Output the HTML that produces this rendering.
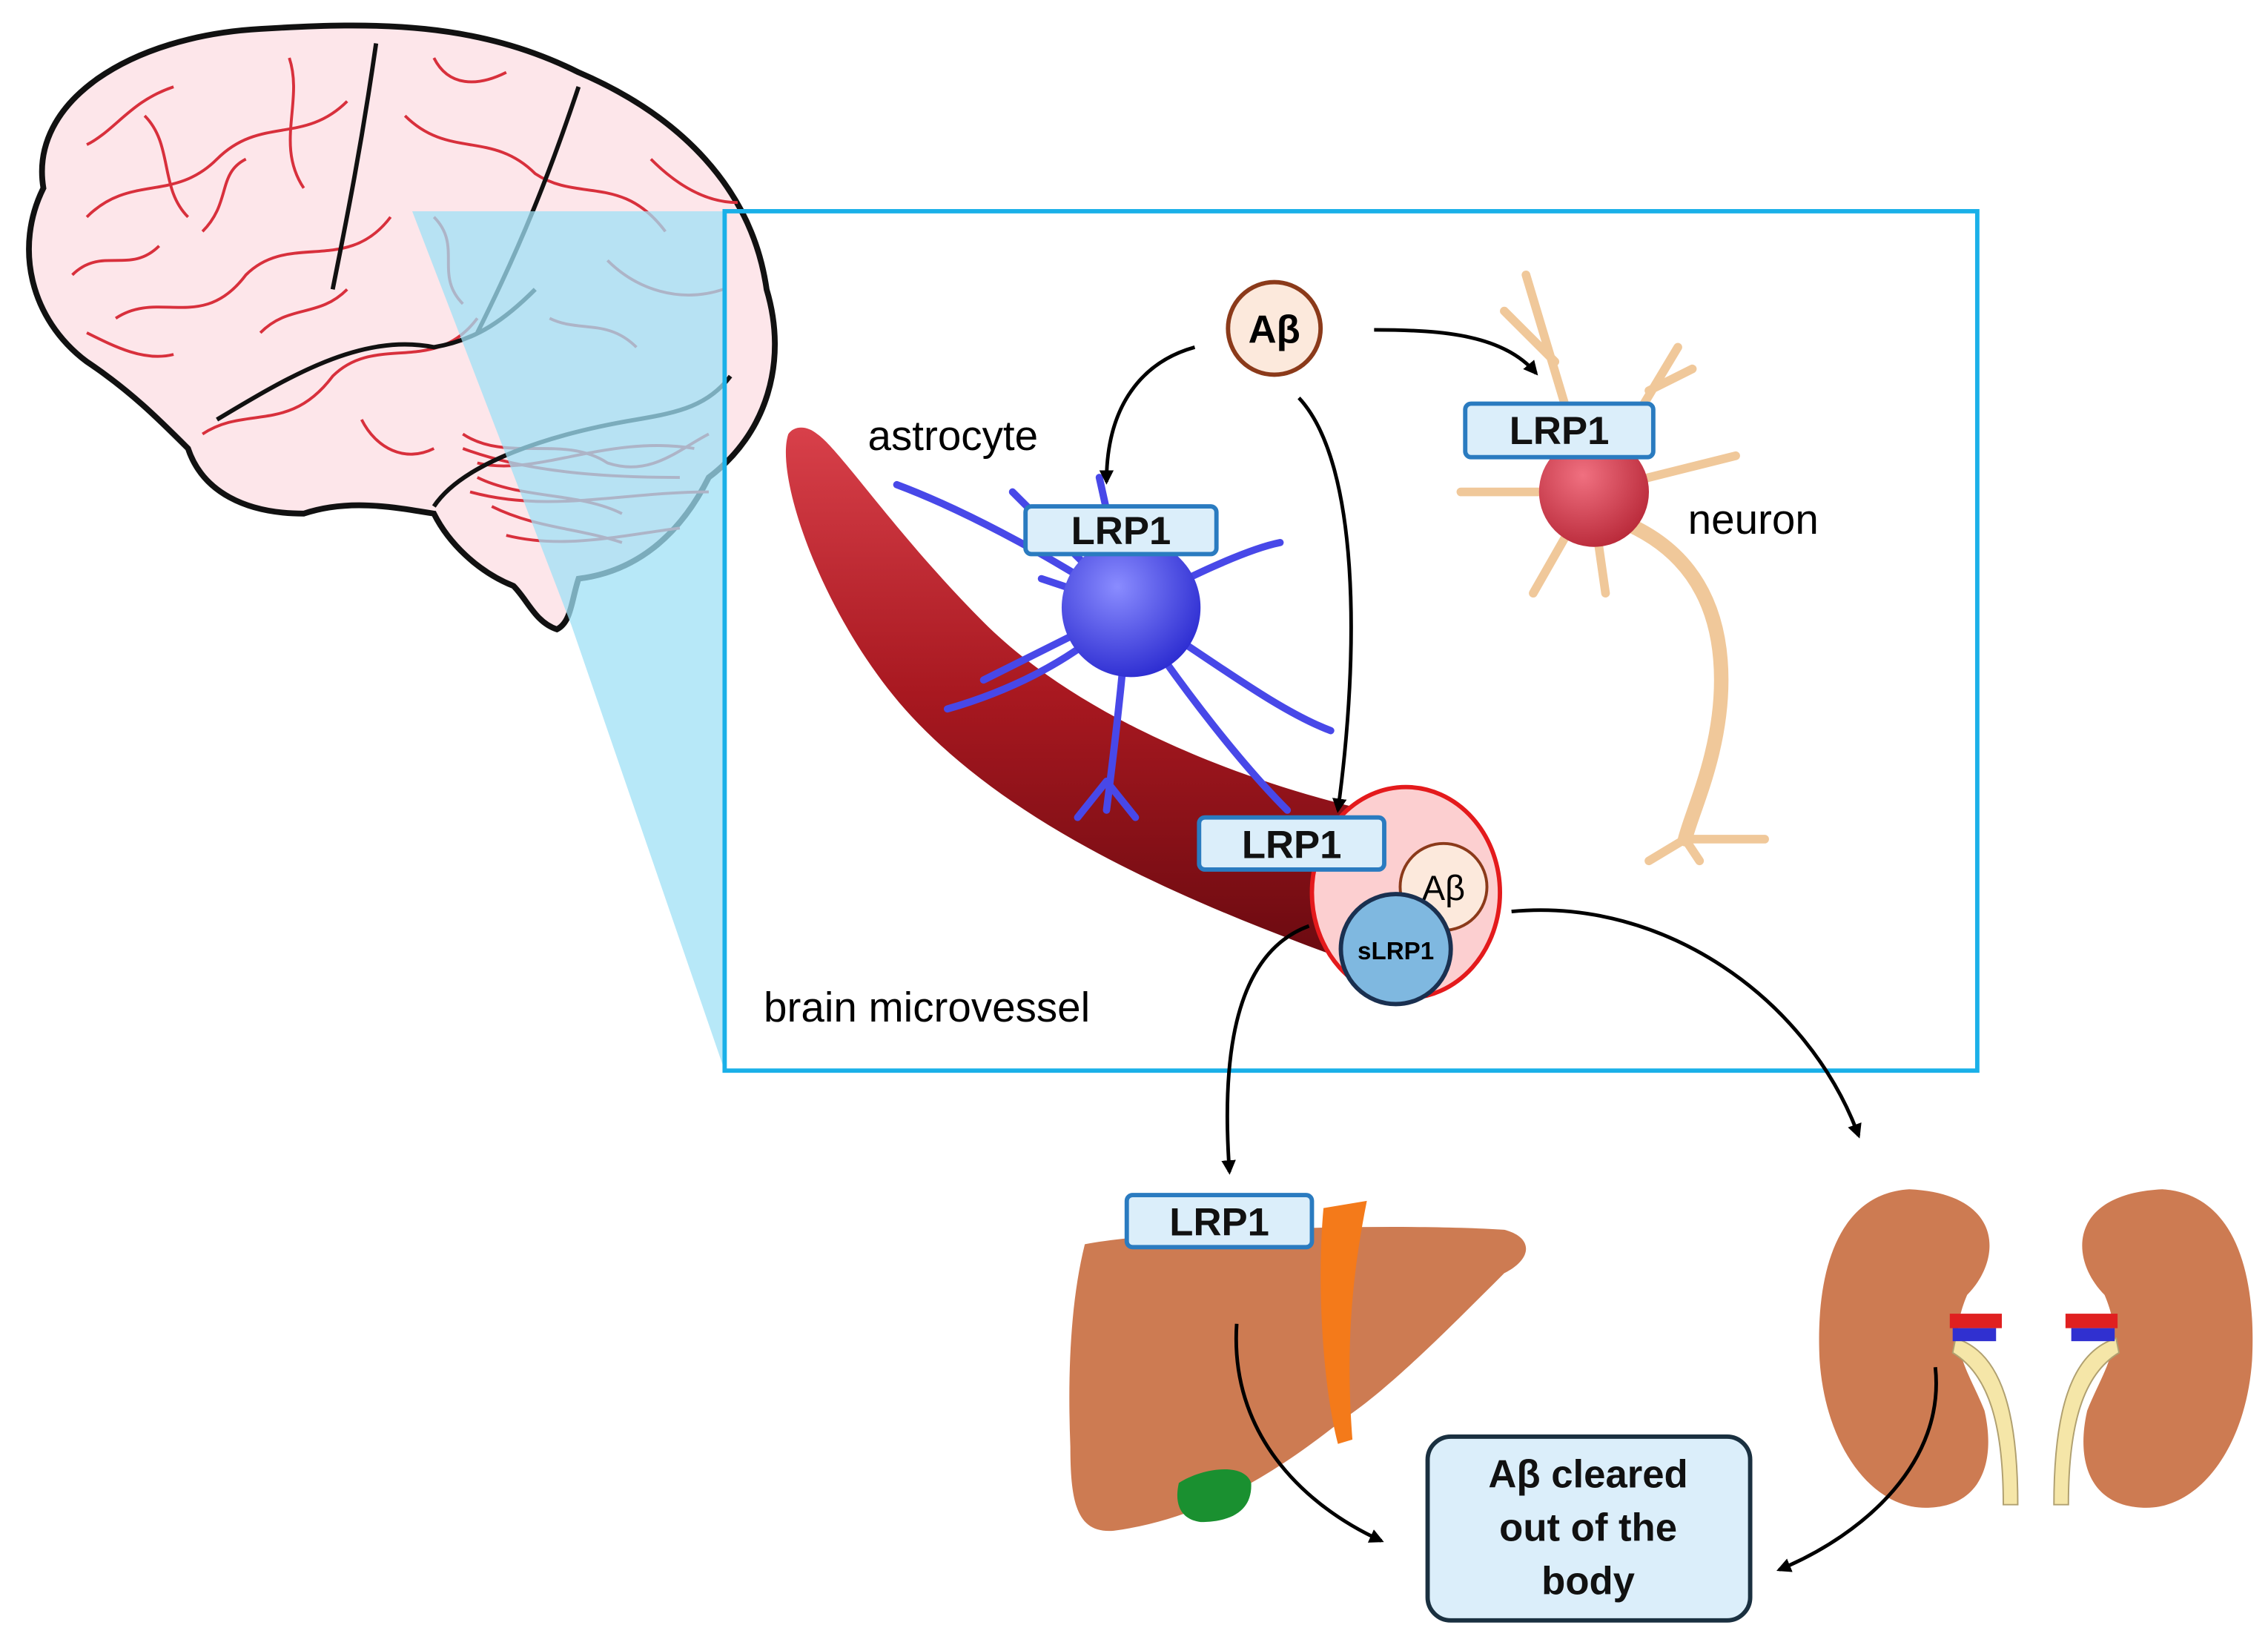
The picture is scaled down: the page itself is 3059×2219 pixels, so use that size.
<!DOCTYPE html>
<html><head><meta charset="utf-8"><style>
html,body{margin:0;padding:0;background:#fff}
svg{display:block}
text{font-family:"Liberation Sans",sans-serif}
</style></head><body>
<svg width="3059" height="2219" viewBox="0 0 1568 1137" preserveAspectRatio="none" xmlns="http://www.w3.org/2000/svg">
<defs>
<marker id="ah" markerWidth="10" markerHeight="10" refX="8" refY="5" orient="auto" markerUnits="userSpaceOnUse"><path d="M0,0 L10,5 L0,10 z" fill="#000"/></marker>
<radialGradient id="astro" cx="0.4" cy="0.35" r="0.7"><stop offset="0" stop-color="#8a8cff"/><stop offset="1" stop-color="#2a2ad0"/></radialGradient>
<radialGradient id="neu" cx="0.4" cy="0.35" r="0.7"><stop offset="0" stop-color="#f07080"/><stop offset="1" stop-color="#b82838"/></radialGradient>
<linearGradient id="ves" x1="0" y1="0" x2="0" y2="1"><stop offset="0" stop-color="#d8404a"/><stop offset="0.5" stop-color="#a81820"/><stop offset="1" stop-color="#6a0a10"/></linearGradient>
</defs>

<!-- brain -->
<path d="M30,130 C20,70 90,25 180,20 C260,15 330,15 400,50 C470,80 520,130 530,200 C545,250 530,300 490,330 C470,370 440,395 400,400 C395,415 395,430 385,435 C370,430 365,415 355,405 C330,395 310,375 300,355 C270,350 240,345 210,355 C170,355 140,340 130,310 C110,290 90,270 60,250 C20,220 10,170 30,130 Z" fill="#fde6ea" stroke="#111" stroke-width="4"/>
<g fill="none" stroke="#d8303c" stroke-width="2">
<path d="M60,150 C90,120 120,140 150,110 C180,80 210,100 240,70"/>
<path d="M80,220 C110,200 140,230 170,190 C200,160 240,190 270,150"/>
<path d="M140,300 C170,280 200,300 230,260 C260,230 300,260 330,220"/>
<path d="M280,80 C310,110 340,90 370,120 C400,140 430,120 460,160"/>
<path d="M320,300 C350,320 390,300 420,320 C450,330 470,310 490,300"/>
<path d="M330,330 C360,345 400,340 430,355 M340,350 C370,365 400,365 430,375 M320,310 C360,325 410,330 470,330"/>
<path d="M100,80 C120,100 110,130 130,150 M200,40 C210,70 190,100 210,130 M420,180 C440,200 470,210 500,200"/>
<path d="M50,190 C70,170 90,190 110,170 M60,100 C80,90 90,70 120,60 M300,40 C310,60 330,60 350,50 M140,160 C160,140 150,120 170,110 M180,230 C200,210 220,220 240,200 M300,150 C320,170 300,190 320,210 M380,220 C400,230 420,220 440,240 M450,110 C470,130 490,140 510,140 M250,290 C260,310 280,320 300,310 M60,230 C80,240 100,250 120,245"/>
<path d="M330,320 C370,330 420,300 480,310 M325,340 C380,355 430,340 490,340 M350,370 C390,380 430,370 470,365"/>
</g>
<g fill="none" stroke="#111" stroke-width="3">
<path d="M150,290 C200,260 250,230 300,240 C330,235 350,220 370,200"/>
<path d="M260,30 C250,100 240,150 230,200"/>
<path d="M400,60 C380,120 360,170 330,230"/>
<path d="M300,350 C320,320 380,300 440,290 C470,285 490,280 505,260"/>
</g>
<!-- projection -->
<polygon points="285,146 501,146 501,740 395,432" fill="#9fe0f6" opacity="0.75"/>
<rect x="501" y="146" width="866" height="594" fill="none" stroke="#1ab0e8" stroke-width="3"/>

<!-- vessel -->
<path d="M545,300 C535,330 570,430 630,495 C700,570 810,620 935,665 L945,560 C840,535 740,490 680,430 C620,370 580,310 565,300 C558,294 549,294 545,300 Z" fill="url(#ves)"/>
<ellipse cx="972" cy="617" rx="65" ry="73" fill="#fccfd0" stroke="#e41a1c" stroke-width="3"/>

<!-- astrocyte -->
<g stroke="#4848e8" stroke-width="5" fill="none" stroke-linecap="round">
<path d="M780,420 C720,380 660,350 620,335 M780,420 L700,340 M780,420 L760,330 M780,420 C820,400 860,380 885,375 M780,420 C830,450 880,490 920,505 M780,420 C740,440 700,460 680,470 M780,420 C740,460 690,480 655,490 M780,420 C775,480 770,520 765,560 M780,420 C820,480 860,530 890,560 M780,420 L720,400 M765,540 L745,565 M765,540 L785,565"/>
</g>
<circle cx="782" cy="420" r="48" fill="url(#astro)"/>

<!-- neuron -->
<g stroke="#f0c89a" stroke-width="6" fill="none" stroke-linecap="round">
<path d="M1100,340 L1055,190 M1100,340 L1160,240 M1100,340 L1010,340 M1100,340 L1200,315 M1100,340 L1060,410 M1100,340 L1110,410 M1075,250 L1040,215 M1140,270 L1170,255"/>
<path d="M1120,360 C1170,380 1190,420 1190,470 C1190,520 1170,560 1165,580" stroke-width="10"/>
<path d="M1165,580 L1140,595 M1165,580 L1175,595 M1165,580 L1220,580"/>
</g>
<circle cx="1102" cy="340" r="38" fill="url(#neu)"/>

<!-- liver -->
<path d="M750,860 C800,850 960,845 1040,850 C1060,855 1060,870 1040,880 C1000,920 960,960 930,980 C880,1020 830,1050 770,1058 C745,1060 740,1040 740,1000 C738,950 740,900 750,860 Z" fill="#cd7b52"/>
<path d="M915,835 L945,830 C935,880 930,930 935,995 L925,998 C915,960 910,890 915,835 Z" fill="#f47a1a"/>
<path d="M815,1025 C830,1015 860,1010 865,1025 C866,1045 850,1052 830,1052 C815,1050 812,1038 815,1025 Z" fill="#1a9030"/>

<!-- LRP1 boxes -->
<g fill="#dbeefa" stroke="#2a7bc0" stroke-width="3">
<rect x="709" y="350" width="132" height="33" rx="4"/>
<rect x="1013" y="279" width="130" height="37" rx="4"/>
<rect x="829" y="565" width="128" height="36" rx="4"/>
<rect x="779" y="826" width="128" height="36" rx="4"/>
</g>
<g font-weight="bold" font-size="27" text-anchor="middle" fill="#111">
<text x="775" y="376">LRP1</text>
<text x="1078" y="307">LRP1</text>
<text x="893" y="593">LRP1</text>
<text x="843" y="854">LRP1</text>
</g>

<!-- Aβ circles -->
<circle cx="881" cy="227" r="32" fill="#fce9dc" stroke="#8b3a1a" stroke-width="3"/>
<text x="881" y="237" font-size="27" font-weight="bold" text-anchor="middle">Aβ</text>
<circle cx="998" cy="613" r="30" fill="#fce9dc" stroke="#8b3a1a" stroke-width="2"/>
<text x="998" y="622" font-size="24" text-anchor="middle">Aβ</text>
<circle cx="965" cy="656" r="38" fill="#7fb8e0" stroke="#1a3050" stroke-width="3"/>
<text x="965" y="663" font-size="17" font-weight="bold" text-anchor="middle">sLRP1</text>

<!-- labels -->
<text x="600" y="311" font-size="29">astrocyte</text>
<text x="1167" y="369" font-size="29">neuron</text>
<text x="528" y="706" font-size="29">brain microvessel</text>

<!-- kidneys -->
<path d="M1320,822 C1270,825 1255,880 1258,940 C1262,1000 1295,1045 1335,1042 C1370,1040 1380,1010 1372,975 C1360,945 1345,930 1360,895 C1385,870 1385,825 1320,822 Z" fill="#cd7b52"/>
<path d="M1495,822 C1545,825 1560,880 1557,940 C1553,1000 1520,1045 1480,1042 C1445,1040 1435,1010 1443,975 C1455,945 1470,930 1455,895 C1430,870 1430,825 1495,822 Z" fill="#cd7b52"/>
<path d="M1352,925 C1385,935 1395,980 1395,1040 L1385,1040 C1385,985 1375,950 1350,935 Z" fill="#f5e6a8" stroke="#b0a070"/>
<path d="M1463,925 C1430,935 1420,980 1420,1040 L1430,1040 C1430,985 1440,950 1465,935 Z" fill="#f5e6a8" stroke="#b0a070"/>
<rect x="1348" y="908" width="36" height="10" fill="#e02020"/><rect x="1350" y="918" width="30" height="9" fill="#3030d0"/>
<rect x="1428" y="908" width="36" height="10" fill="#e02020"/><rect x="1432" y="918" width="30" height="9" fill="#3030d0"/>

<!-- result box -->
<rect x="987" y="993" width="223" height="127" rx="16" fill="#dbeefa" stroke="#1a3040" stroke-width="3"/>
<g font-size="27" font-weight="bold" text-anchor="middle" fill="#111">
<text x="1098" y="1028">Aβ cleared</text>
<text x="1098" y="1065">out of the</text>
<text x="1098" y="1102">body</text>
</g>

<!-- arrows -->
<g fill="none" stroke="#000" stroke-width="2.5" marker-end="url(#ah)">
<path d="M826,240 C790,250 765,280 765,333"/>
<path d="M950,228 C1000,228 1040,232 1062,258"/>
<path d="M898,275 C940,320 940,450 925,560"/>
<path d="M905,640 C850,660 845,740 850,810"/>
<path d="M1045,630 C1150,620 1250,690 1285,785"/>
<path d="M855,915 C850,990 900,1040 955,1065"/>
<path d="M1338,945 C1345,1010 1290,1060 1230,1085"/>
</g>
</svg>
</body></html>
